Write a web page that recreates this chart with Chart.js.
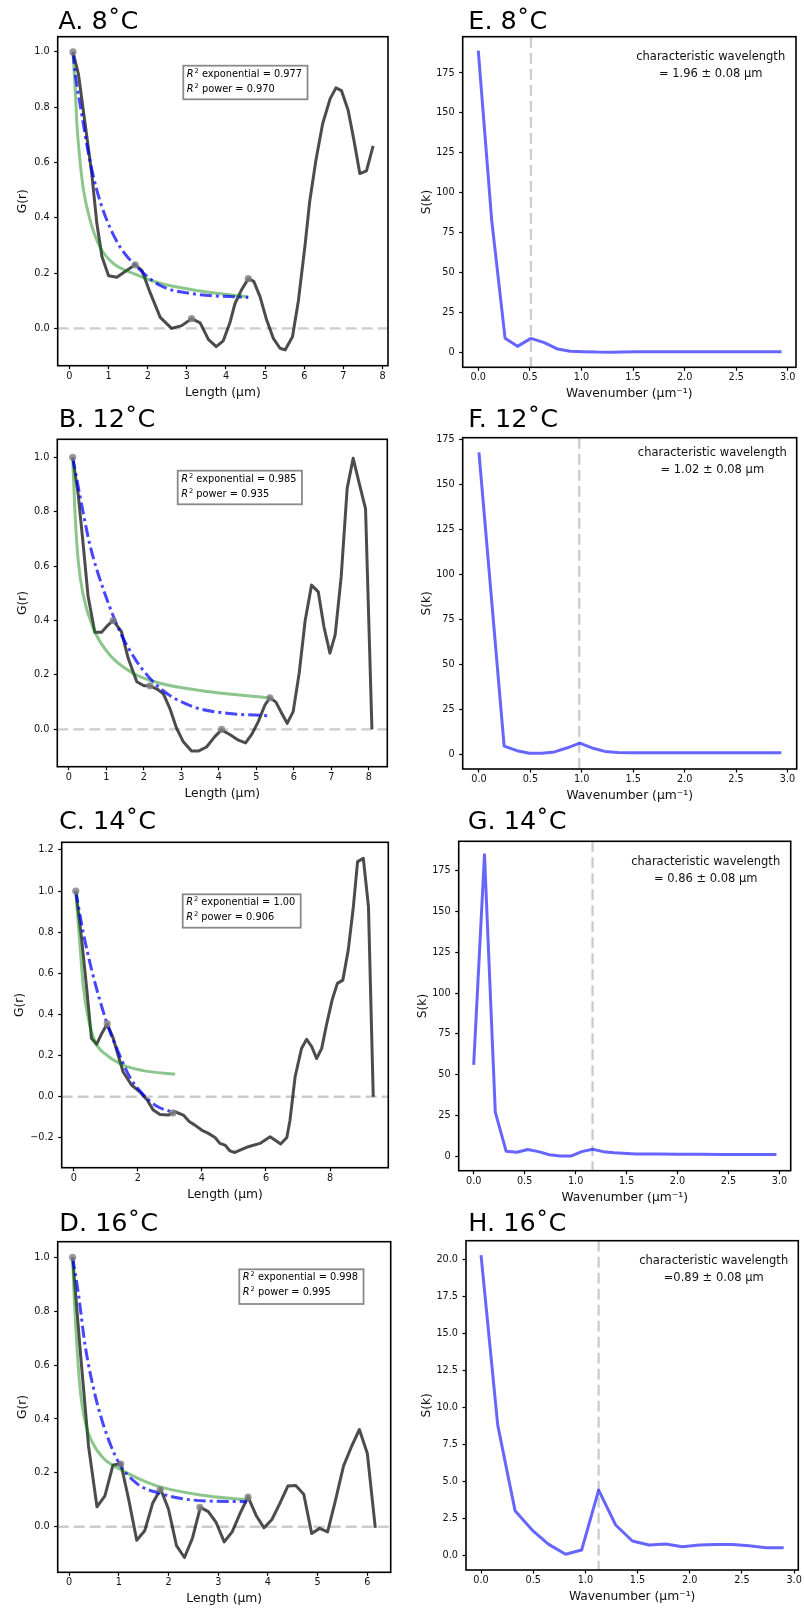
<!DOCTYPE html>
<html>
<head>
<meta charset="utf-8">
<title>G(r) and S(k) by temperature</title>
<script src="https://cdn.jsdelivr.net/npm/chart.js@4.4.1/dist/chart.umd.min.js"></script>
<style>
  html, body { margin: 0; padding: 0; background: #ffffff; }
  body { position: relative; width: 804px; height: 1611px; overflow: hidden; }
  canvas { position: absolute; }
</style>
</head>
<body>
<canvas id="chartA" width="400" height="406" style="left:0px;top:0px"></canvas>
<canvas id="chartE" width="404" height="406" style="left:400px;top:0px"></canvas>
<canvas id="chartB" width="400" height="406" style="left:0px;top:400px"></canvas>
<canvas id="chartF" width="404" height="406" style="left:400px;top:400px"></canvas>
<canvas id="chartC" width="400" height="406" style="left:0px;top:800px"></canvas>
<canvas id="chartG" width="404" height="406" style="left:400px;top:800px"></canvas>
<canvas id="chartD" width="400" height="411" style="left:0px;top:1200px"></canvas>
<canvas id="chartH" width="404" height="411" style="left:400px;top:1200px"></canvas>
<script>
// ===== DATA: pair correlation G(r) =====
const lenA = [0.09, 0.23, 0.40, 0.57, 0.70, 0.83, 1.00, 1.21, 1.47, 1.68, 1.85, 2.06, 2.32, 2.61, 2.87, 3.12, 3.34, 3.55, 3.75, 3.93, 4.10, 4.23, 4.40, 4.57, 4.71, 4.87, 5.04, 5.21, 5.38, 5.51, 5.70, 5.85, 6.02, 6.14, 6.30, 6.47, 6.66, 6.81, 6.95, 7.12, 7.27, 7.42, 7.59, 7.76];
const gA = [1.0, 0.92, 0.74, 0.56, 0.38, 0.26, 0.19, 0.185, 0.21, 0.23, 0.21, 0.13, 0.04, 0.0, 0.01, 0.035, 0.02, -0.04, -0.066, -0.045, 0.02, 0.09, 0.14, 0.18, 0.17, 0.115, 0.03, -0.036, -0.072, -0.078, -0.03, 0.10, 0.30, 0.46, 0.61, 0.74, 0.83, 0.87, 0.86, 0.79, 0.68, 0.56, 0.57, 0.66];
const peakLenA = [0.09, 1.68, 3.12, 4.57];
const peakGA = [1.0, 0.23, 0.035, 0.18];
const powLenA = [0.09, 0.15, 0.19, 0.26, 0.36, 0.53, 0.78, 1.12, 1.63, 2.32, 3.17, 4.57];
const powGA = [1.0, 0.86, 0.74, 0.62, 0.50, 0.39, 0.295, 0.235, 0.199, 0.163, 0.139, 0.114];
const expLenA = [0.09, 0.15, 0.32, 0.49, 0.70, 0.96, 1.29, 1.72, 2.32, 3.17, 4.57];
const expGA = [1.0, 0.92, 0.77, 0.63, 0.50, 0.39, 0.295, 0.223, 0.155, 0.125, 0.112];

const lenB = [0.10, 0.25, 0.38, 0.51, 0.69, 0.87, 1.02, 1.18, 1.40, 1.58, 1.81, 2.00, 2.16, 2.36, 2.52, 2.69, 2.87, 3.05, 3.27, 3.45, 3.67, 3.89, 4.07, 4.30, 4.52, 4.71, 4.87, 5.05, 5.23, 5.36, 5.52, 5.67, 5.82, 5.98, 6.14, 6.30, 6.47, 6.65, 6.80, 6.96, 7.10, 7.26, 7.42, 7.58, 7.74, 7.91, 8.08];
const gB = [1.0, 0.86, 0.68, 0.49, 0.357, 0.357, 0.38, 0.40, 0.359, 0.261, 0.175, 0.16, 0.16, 0.147, 0.13, 0.077, 0.004, -0.046, -0.08, -0.08, -0.065, -0.027, -0.002, -0.02, -0.04, -0.05, -0.02, 0.028, 0.09, 0.116, 0.10, 0.06, 0.022, 0.065, 0.206, 0.40, 0.53, 0.505, 0.377, 0.28, 0.347, 0.56, 0.886, 0.996, 0.905, 0.81, 0.0];
const peakLenB = [0.10, 1.18, 2.16, 4.07, 5.36];
const peakGB = [1.0, 0.40, 0.16, 0.0, 0.116];
const powLenB = [0.10, 0.16, 0.25, 0.38, 0.65, 1.09, 1.71, 2.43, 3.76, 5.34];
const powGB = [1.0, 0.80, 0.616, 0.494, 0.371, 0.273, 0.206, 0.169, 0.138, 0.116];
const expLenB = [0.10, 0.29, 0.56, 0.91, 1.36, 1.81, 2.43, 3.31, 4.21, 5.31];
const expGB = [1.0, 0.861, 0.678, 0.518, 0.359, 0.249, 0.151, 0.083, 0.059, 0.050];

const lenC = [0.06, 0.24, 0.40, 0.55, 0.71, 0.88, 1.04, 1.23, 1.38, 1.54, 1.80, 2.06, 2.29, 2.48, 2.69, 2.95, 3.16, 3.42, 3.60, 3.78, 3.99, 4.20, 4.41, 4.56, 4.72, 4.87, 5.03, 5.19, 5.45, 5.81, 6.13, 6.46, 6.65, 6.75, 6.91, 7.11, 7.27, 7.43, 7.58, 7.74, 7.90, 8.07, 8.23, 8.40, 8.57, 8.73, 8.86, 9.04, 9.20, 9.35];
const gC = [1.0, 0.77, 0.527, 0.284, 0.255, 0.31, 0.354, 0.284, 0.203, 0.12, 0.057, 0.024, -0.016, -0.065, -0.086, -0.089, -0.073, -0.089, -0.12, -0.138, -0.162, -0.178, -0.198, -0.227, -0.235, -0.263, -0.271, -0.26, -0.243, -0.227, -0.195, -0.23, -0.198, -0.114, 0.097, 0.235, 0.279, 0.243, 0.186, 0.235, 0.357, 0.473, 0.551, 0.567, 0.714, 0.925, 1.143, 1.159, 0.925, 0.0];
const peakLenC = [0.06, 1.04, 3.10];
const peakGC = [1.0, 0.355, -0.078];
const powLenC = [0.06, 0.19, 0.29, 0.45, 0.66, 1.02, 1.54, 2.17, 3.16];
const powGC = [1.0, 0.738, 0.543, 0.381, 0.268, 0.203, 0.154, 0.127, 0.109];
const expLenC = [0.06, 0.29, 0.55, 0.81, 1.04, 1.38, 1.75, 2.17, 2.58, 3.10];
const expGC = [1.0, 0.80, 0.62, 0.47, 0.354, 0.22, 0.095, 0.01, -0.045, -0.076];

const lenD = [0.07, 0.23, 0.39, 0.56, 0.72, 0.88, 1.04, 1.20, 1.36, 1.52, 1.68, 1.84, 2.00, 2.16, 2.32, 2.48, 2.64, 2.80, 2.96, 3.12, 3.28, 3.44, 3.60, 3.76, 3.92, 4.08, 4.24, 4.40, 4.56, 4.72, 4.88, 5.04, 5.20, 5.36, 5.52, 5.68, 5.84, 6.00, 6.16];
const gD = [1.0, 0.64, 0.30, 0.074, 0.115, 0.228, 0.235, 0.10, -0.05, -0.015, 0.087, 0.14, 0.065, -0.07, -0.114, -0.043, 0.072, 0.056, 0.015, -0.056, -0.019, 0.05, 0.111, 0.043, -0.004, 0.027, 0.087, 0.151, 0.153, 0.121, -0.025, -0.006, -0.019, 0.099, 0.225, 0.297, 0.361, 0.272, -0.004];
const peakLenD = [0.07, 1.04, 1.83, 2.63, 3.60];
const peakGD = [1.0, 0.233, 0.138, 0.072, 0.11];
const powLenD = [0.07, 0.10, 0.155, 0.22, 0.32, 0.46, 0.69, 1.03, 1.43, 1.83, 2.64, 3.61];
const powGD = [1.0, 0.86, 0.675, 0.514, 0.39, 0.316, 0.254, 0.213, 0.176, 0.148, 0.118, 0.099];
const expLenD = [0.07, 0.19, 0.32, 0.49, 0.69, 0.99, 1.36, 1.83, 2.50, 3.58];
const expGD = [1.0, 0.86, 0.675, 0.514, 0.378, 0.241, 0.161, 0.124, 0.099, 0.093];

// ===== DATA: structure factor S(k) =====
const kE = [0, 0.13, 0.26, 0.38, 0.51, 0.64, 0.77, 0.89, 1.02, 1.15, 1.28, 1.40, 1.53, 1.66, 1.79, 1.91, 2.04, 2.17, 2.30, 2.42, 2.55, 2.68, 2.81, 2.94];
const sE = [189, 83, 9, 4, 9, 6.3, 2.3, 0.9, 0.7, 0.4, 0.3, 0.5, 0.6, 0.7, 0.7, 0.7, 0.7, 0.7, 0.7, 0.7, 0.7, 0.7, 0.7, 0.7];
const kF = [0, 0.245, 0.37, 0.49, 0.61, 0.735, 0.86, 0.98, 1.10, 1.225, 1.35, 1.47, 1.715, 1.96, 2.205, 2.45, 2.695, 2.94];
const sF = [168, 4.5, 2.0, 0.6, 0.5, 1.3, 3.6, 6.2, 3.5, 1.6, 1.0, 0.9, 0.8, 0.8, 0.8, 0.8, 0.8, 0.8];
const kG = [0, 0.106, 0.212, 0.318, 0.424, 0.53, 0.636, 0.742, 0.848, 0.954, 1.06, 1.166, 1.272, 1.378, 1.59, 1.80, 2.02, 2.23, 2.44, 2.65, 2.86, 2.97];
const sG = [56, 185, 27, 3, 2.3, 4, 2.7, 0.8, 0, 0, 2.7, 4.2, 2.7, 2.0, 1.2, 1.2, 1.1, 1.1, 1.0, 1.0, 1.0, 1.0];
const kH = [0, 0.16, 0.326, 0.49, 0.645, 0.81, 0.964, 1.127, 1.29, 1.45, 1.61, 1.77, 1.93, 2.09, 2.25, 2.41, 2.57, 2.73, 2.90];
const sH = [20.27, 8.78, 3.0, 1.69, 0.74, 0.05, 0.34, 4.39, 2.03, 0.95, 0.68, 0.74, 0.56, 0.68, 0.72, 0.72, 0.63, 0.50, 0.50];
const peakK = [0.51, 0.975, 1.166, 1.127];

// ===== TICKS AND LABELS =====
const lengthTicks = [0, 1, 2, 3, 4, 5, 6, 7, 8];
const lengthTicksC = [0, 2, 4, 6, 8];
const lengthTicksD = [0, 1, 2, 3, 4, 5, 6];
const gTicks = [0, 0.2, 0.4, 0.6, 0.8, 1.0];
const gTicksC = [-0.2, 0, 0.2, 0.4, 0.6, 0.8, 1.0, 1.2];
const kTicks = [0, 0.5, 1.0, 1.5, 2.0, 2.5, 3.0];
const sTicks = [0, 25, 50, 75, 100, 125, 150, 175];
const sTicksH = [0, 2.5, 5, 7.5, 10, 12.5, 15, 17.5, 20];
const panelTitles = ['A. 8˚C', 'B. 12˚C', 'C. 14˚C', 'D. 16˚C', 'E. 8˚C', 'F. 12˚C', 'G. 14˚C', 'H. 16˚C'];
const r2Exp = ['0.977', '0.985', '1.00', '0.998'];
const r2Pow = ['0.970', '0.935', '0.906', '0.995'];
const wavelengthLines = ['= 1.96 ± 0.08 μm', '= 1.02 ± 0.08 μm', '= 0.86 ± 0.08 μm', '=0.89 ± 0.08 μm'];

// ===== STYLE =====
const FONT = "'DejaVu Sans', sans-serif";
const AXIS_TITLE_SIZE = 12.3;
Chart.defaults.font.family = FONT;
Chart.defaults.color = '#111';

function pts(xs, ys) {
    return xs.map((x, i) => ({ x: x, y: ys[i] }));
}

function fmt(dec) {
    return function (v) {
        const s = Number(v).toFixed(dec);
        return s.charAt(0) === '-' ? '\u2212' + s.slice(1) : s;
    };
}

// ===== Frame, titles, reference lines and text boxes =====
const panelDecor = {
    id: 'panelDecor',
    beforeDatasetsDraw(chart, args, o) {
        const { ctx, chartArea: a } = chart;
        ctx.save();
        ctx.beginPath();
        ctx.rect(a.left, a.top, a.right - a.left, a.bottom - a.top);
        ctx.clip();
        ctx.strokeStyle = '#cccccc';
        ctx.lineWidth = 2.3;
        ctx.setLineDash([11, 5]);
        ctx.beginPath();
        if (o.refY !== undefined) {
            const py = chart.scales.y.getPixelForValue(o.refY);
            ctx.moveTo(a.left, py);
            ctx.lineTo(a.right, py);
        }
        if (o.refX !== undefined) {
            const px = chart.scales.x.getPixelForValue(o.refX);
            ctx.moveTo(px, a.top);
            ctx.lineTo(px, a.bottom);
        }
        ctx.stroke();
        ctx.restore();
    },
    afterDraw(chart, args, o) {
        const { ctx, chartArea: a } = chart;
        ctx.save();
        // frame
        ctx.strokeStyle = '#000';
        ctx.lineWidth = 1.6;
        ctx.strokeRect(a.left, a.top, a.right - a.left, a.bottom - a.top);
        // panel title
        ctx.font = '25.5px ' + FONT;
        ctx.fillStyle = '#000';
        ctx.textAlign = 'left';
        ctx.textBaseline = 'alphabetic';
        ctx.fillText(o.title, o.titleX, o.titleY);

        if (o.r2) {
            const fs = 9.8;
            const base = fs + 'px ' + FONT;
            const ital = 'italic ' + fs + 'px ' + FONT;
            const sup = (fs * 0.68) + 'px ' + FONT;
            const rows = [' exponential = ' + o.r2.exp, ' power = ' + o.r2.pow];
            ctx.font = ital;
            const wR = ctx.measureText('R').width;
            ctx.font = sup;
            const w2 = ctx.measureText('2').width;
            ctx.font = base;
            const wText = Math.max.apply(null, rows.map(r => ctx.measureText(r).width));
            const bx = a.left + o.r2.dx, by = a.top + o.r2.dy;
            const bw = wR + w2 + wText + 10, bh = o.r2.h;
            ctx.fillStyle = '#fff';
            ctx.fillRect(bx, by, bw, bh);
            ctx.strokeStyle = '#8a8a8a';
            ctx.lineWidth = 1.8;
            ctx.strokeRect(bx, by, bw, bh);
            ctx.fillStyle = '#000';
            ctx.textBaseline = 'middle';
            rows.forEach((r, i) => {
                const y = by + 8.6 + i * 14.8;
                let x = bx + 3.5;
                ctx.font = ital;
                ctx.fillText('R', x, y);
                x += wR + 1;
                ctx.font = sup;
                ctx.fillText('2', x, y - fs * 0.33);
                x += w2;
                ctx.font = base;
                ctx.fillText(r, x, y);
            });
        }

        if (o.note) {
            ctx.font = '11.5px ' + FONT;
            ctx.fillStyle = '#111';
            ctx.textAlign = 'center';
            ctx.textBaseline = 'middle';
            const cx = a.right + o.note.dx;
            ctx.fillText('characteristic wavelength', cx, a.top + o.note.dy);
            ctx.fillText(o.note.text, cx, a.top + o.note.dy + 17);
        }
        ctx.restore();
    }
};

function axis(pos, min, max, ticks, dec, size, title, titlePad) {
    return {
        type: 'linear',
        position: pos,
        min: min,
        max: max,
        bounds: 'data',
        afterBuildTicks: s => { s.ticks = ticks.map(v => ({ value: v })); },
        afterFit: s => {
            if (pos === 'left') s.width = size; else s.height = size;
            s.paddingLeft = s.paddingRight = s.paddingTop = s.paddingBottom = 0;
        },
        ticks: {
            autoSkip: false,
            maxRotation: 0,
            padding: pos === 'left' ? 4.5 : 1,
            font: { size: 9.7 },
            color: '#111',
            callback: fmt(dec)
        },
        grid: {
            display: true,
            drawOnChartArea: false,
            drawTicks: true,
            tickLength: 3.5,
            tickColor: '#000',
            tickWidth: 1.2
        },
        border: { display: false },
        title: {
            display: true,
            text: title,
            color: '#111',
            font: { size: AXIS_TITLE_SIZE },
            padding: pos === 'left' ? { top: titlePad, bottom: 0 } : { top: 0, bottom: titlePad }
        }
    };
}

function gSets(len, g, pLen, pG, powL, powG, expL, expG) {
    return [
        { data: pts(len, g), borderColor: 'rgba(0,0,0,0.7)', borderWidth: 3, pointRadius: 0, borderJoinStyle: 'round', order: 4 },
        { data: pts(powL, powG), borderColor: 'rgba(0,128,0,0.45)', borderWidth: 3, pointRadius: 0, cubicInterpolationMode: 'monotone', order: 3 },
        { data: pts(expL, expG), borderColor: 'rgba(0,0,255,0.72)', borderWidth: 3, borderDash: [12, 4, 3, 4], pointRadius: 0, cubicInterpolationMode: 'monotone', order: 2 },
        { data: pts(pLen, pG), showLine: false, pointRadius: 3.6, pointBackgroundColor: 'rgba(128,128,128,0.8)', pointBorderWidth: 0, order: 1 }
    ];
}

function sSets(k, s) {
    return [
        { data: pts(k, s), borderColor: 'rgba(0,0,255,0.6)', borderWidth: 3, pointRadius: 0, borderJoinStyle: 'round' }
    ];
}

function makePanel(id, p) {
    const canvas = document.getElementById(id);
    const cl = parseFloat(canvas.style.left), ct = parseFloat(canvas.style.top);
    const cw = canvas.width, ch = canvas.height;
    const [pl, pt, pr, pb] = p.plot;
    const yW = pl - cl, xH = ct + ch - pb;
    const halfLine = AXIS_TITLE_SIZE * 0.6;
    new Chart(canvas, {
        type: 'line',
        data: { datasets: p.datasets },
        options: {
            responsive: false,
            animation: false,
            events: [],
            layout: { autoPadding: false, padding: { top: pt - ct, right: cl + cw - pr, left: 0, bottom: 0 } },
            plugins: { legend: { display: false }, tooltip: { enabled: false }, panelDecor: p.decor },
            scales: {
                x: axis('bottom', p.x[0], p.x[1], p.xTicks, p.xDec, xH, p.xTitle, xH - 27 - halfLine),
                y: axis('left', p.y[0], p.y[1], p.yTicks, p.yDec, yW, p.yTitle, p.yTitleX - cl - halfLine)
            }
        },
        plugins: [panelDecor]
    });
}

// ===== G(r) PANELS =====
makePanel('chartA', {
    plot: [57.7, 36.7, 388, 365.7], x: [-0.30, 8.14], y: [-0.135, 1.055],
    xTicks: lengthTicks, xDec: 0, yTicks: gTicks, yDec: 1, xTitle: 'Length (μm)', yTitle: 'G(r)', yTitleX: 23.3,
    datasets: gSets(lenA, gA, peakLenA, peakGA, powLenA, powGA, expLenA, expGA),
    decor: { title: panelTitles[0], titleX: 58.3, titleY: 29, refY: 0, r2: { exp: r2Exp[0], pow: r2Pow[0], dx: 125.6, dy: 29, h: 33.6 } }
});
makePanel('chartB', {
    plot: [57.3, 439.3, 387.3, 766.7], x: [-0.31, 8.49], y: [-0.1375, 1.066],
    xTicks: lengthTicks, xDec: 0, yTicks: gTicks, yDec: 1, xTitle: 'Length (μm)', yTitle: 'G(r)', yTitleX: 23.3,
    datasets: gSets(lenB, gB, peakLenB, peakGB, powLenB, powGB, expLenB, expGB),
    decor: { title: panelTitles[1], titleX: 58.7, titleY: 27.3, refY: 0, r2: { exp: r2Exp[1], pow: r2Pow[1], dx: 120.4, dy: 31.4, h: 33.6 } }
});
makePanel('chartC', {
    plot: [61.7, 842.3, 388.3, 1167.7], x: [-0.38, 9.82], y: [-0.345, 1.237],
    xTicks: lengthTicksC, xDec: 0, yTicks: gTicksC, yDec: 1, xTitle: 'Length (μm)', yTitle: 'G(r)', yTitleX: 20,
    datasets: gSets(lenC, gC, peakLenC, peakGC, powLenC, powGC, expLenC, expGC),
    decor: { title: panelTitles[2], titleX: 59, titleY: 29, refY: 0, r2: { exp: r2Exp[2], pow: r2Pow[2], dx: 121, dy: 52, h: 33.4 } }
});
makePanel('chartD', {
    plot: [57.7, 1241.7, 390.7, 1572.3], x: [-0.23, 6.47], y: [-0.169, 1.058],
    xTicks: lengthTicksD, xDec: 0, yTicks: gTicks, yDec: 1, xTitle: 'Length (μm)', yTitle: 'G(r)', yTitleX: 23.3,
    datasets: gSets(lenD, gD, peakLenD, peakGD, powLenD, powGD, expLenD, expGD),
    decor: { title: panelTitles[3], titleX: 59.3, titleY: 31, refY: 0, r2: { exp: r2Exp[3], pow: r2Pow[3], dx: 181.6, dy: 27.6, h: 34.7 } }
});

// ===== S(k) PANELS =====
makePanel('chartE', {
    plot: [462.7, 36.7, 796, 367.3], x: [-0.151, 3.08], y: [-9.1, 197.7],
    xTicks: kTicks, xDec: 1, yTicks: sTicks, yDec: 0, xTitle: 'Wavenumber (μm⁻¹)', yTitle: 'S(k)', yTitleX: 426.7,
    datasets: sSets(kE, sE),
    decor: { title: panelTitles[4], titleX: 68.3, titleY: 29, refX: peakK[0], note: { text: wavelengthLines[0], dx: -85.3, dy: 20 } }
});
makePanel('chartF', {
    plot: [462.7, 437.7, 796.7, 769], x: [-0.158, 3.09], y: [-8.2, 176.1],
    xTicks: kTicks, xDec: 1, yTicks: sTicks, yDec: 0, xTitle: 'Wavenumber (μm⁻¹)', yTitle: 'S(k)', yTitleX: 426.7,
    datasets: sSets(kF, sF),
    decor: { title: panelTitles[5], titleX: 68.3, titleY: 27.3, refX: peakK[1], note: { text: wavelengthLines[1], dx: -84.4, dy: 15.6 } }
});
makePanel('chartG', {
    plot: [458.7, 841.3, 790.7, 1170.7], x: [-0.147, 3.11], y: [-9.0, 193.2],
    xTicks: kTicks, xDec: 1, yTicks: sTicks, yDec: 0, xTitle: 'Wavenumber (μm⁻¹)', yTitle: 'S(k)', yTitleX: 422.7,
    datasets: sSets(kG, sG),
    decor: { title: panelTitles[6], titleX: 67.7, titleY: 29, refX: peakK[2], note: { text: wavelengthLines[2], dx: -85, dy: 21 } }
});
makePanel('chartH', {
    plot: [466, 1240.7, 798.3, 1570], x: [-0.144, 3.04], y: [-1.01, 21.24],
    xTicks: kTicks, xDec: 1, yTicks: sTicksH, yDec: 1, xTitle: 'Wavenumber (μm⁻¹)', yTitle: 'S(k)', yTitleX: 426.7,
    datasets: sSets(kH, sH),
    decor: { title: panelTitles[7], titleX: 68.3, titleY: 31, refX: peakK[3], note: { text: wavelengthLines[3], dx: -84.6, dy: 20 } }
});
</script>
</body>
</html>
